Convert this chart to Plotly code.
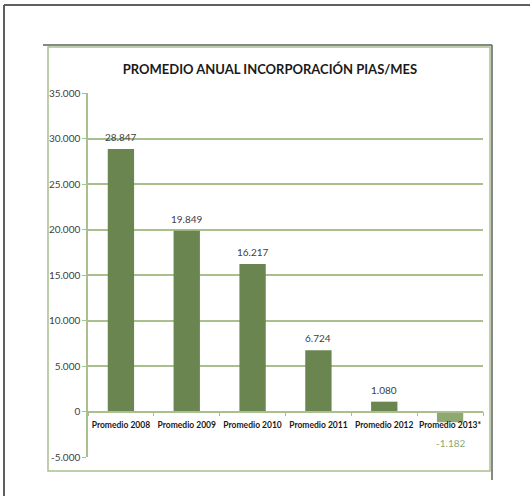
import plotly.graph_objects as go

# data
categories = ["Promedio 2008", "Promedio 2009", "Promedio 2010",
              "Promedio 2011", "Promedio 2012", "Promedio 2013*"]
values = [28847, 19849, 16217, 6724, 1080, -1182]
value_labels = ["28.847", "19.849", "16.217", "6.724", "1.080", "-1.182"]
y_ticks = [-5000, 0, 5000, 10000, 15000, 20000, 25000, 30000, 35000]
y_tick_labels = ["-5.000", "0", "5.000", "10.000", "15.000", "20.000",
                 "25.000", "30.000", "35.000"]

W, H = 530, 496
L, R, T, B = 88, 47, 93, 39  # plot area margins in px

BAR = "#6b8551"
BAR_NEG = "#8ea870"
GRID = "#a9c08e"
TEXT = "#404040"
FONT = "Lato"


def px_x(p):
    return (p - L) / (W - L - R)


def px_y(p):
    return (H - B - p) / (H - T - B)


colors = [BAR if v >= 0 else BAR_NEG for v in values]

fig = go.Figure()
fig.add_trace(
    go.Bar(
        x=categories,
        y=values,
        marker=dict(color=colors, line=dict(width=0)),
        hoverinfo="x+y",
    )
)

# value labels
for cat, v, lab in zip(categories, values, value_labels):
    fig.add_annotation(
        x=cat, y=v, text=lab, showarrow=False,
        xref="x", yref="y", yanchor="middle",
        yshift=12 if v >= 0 else -21,
        font=dict(family=FONT, size=10, color=TEXT if v >= 0 else BAR_NEG),
    )

# chart frames
frame = "#5f5f5f"
shapes = [
    # outer sheet edge
    dict(type="line", x0=px_x(4), x1=px_x(W + 5), y0=px_y(5), y1=px_y(5),
         line=dict(color=frame, width=2)),
    dict(type="line", x0=px_x(4), x1=px_x(4), y0=px_y(5), y1=px_y(H + 5),
         line=dict(color=frame, width=2)),
    # inner chart box
    dict(type="rect", x0=px_x(48), x1=px_x(490), y0=px_y(47), y1=px_y(471),
         line=dict(color=GRID, width=1.5)),
    dict(type="line", x0=px_x(43), x1=px_x(492), y0=px_y(45), y1=px_y(45),
         line=dict(color=frame, width=1.5)),
    dict(type="line", x0=px_x(492), x1=px_x(492), y0=px_y(45), y1=px_y(480),
         line=dict(color=frame, width=1.5)),
]
for s in shapes:
    s.update(xref="paper", yref="paper", layer="below")

fig.update_layout(
    width=W,
    height=H,
    margin=dict(l=L, r=R, t=T, b=B, autoexpand=False),
    paper_bgcolor="white",
    plot_bgcolor="white",
    showlegend=False,
    bargap=0.6,
    shapes=shapes,
    title=dict(
        text="<b>PROMEDIO ANUAL INCORPORACIÓN PIAS/MES</b>",
        x=270 / W, xanchor="center",
        y=1 - 69 / H, yanchor="middle",
        font=dict(family=FONT, size=13, color="#1a1a1a"),
    ),
    font=dict(family=FONT, color=TEXT),
)

fig.update_yaxes(
    range=[-5000, 35000],
    tickvals=y_ticks,
    ticktext=y_tick_labels,
    showgrid=True,
    gridcolor=GRID,
    gridwidth=1.5,
    zeroline=False,
    showline=True,
    linecolor=GRID,
    linewidth=1.5,
    ticks="outside",
    ticklen=4,
    tickcolor=GRID,
    tickfont=dict(family=FONT, size=10, color=TEXT),
)

fig.update_xaxes(
    anchor="free",
    position=5000 / 40000,
    showline=True,
    linecolor=GRID,
    linewidth=1.5,
    ticks="outside",
    ticklen=4,
    tickcolor=GRID,
    tickson="boundaries",
    tickangle=0,
    ticklabelstandoff=6,
    showgrid=False,
    tickfont=dict(family=FONT, size=8.5, color="#1a1a1a", weight="bold"),
)

fig.write_html(
    "out.html",
    config={"displayModeBar": False},
    post_script="document.body.style.margin='0';",
)
